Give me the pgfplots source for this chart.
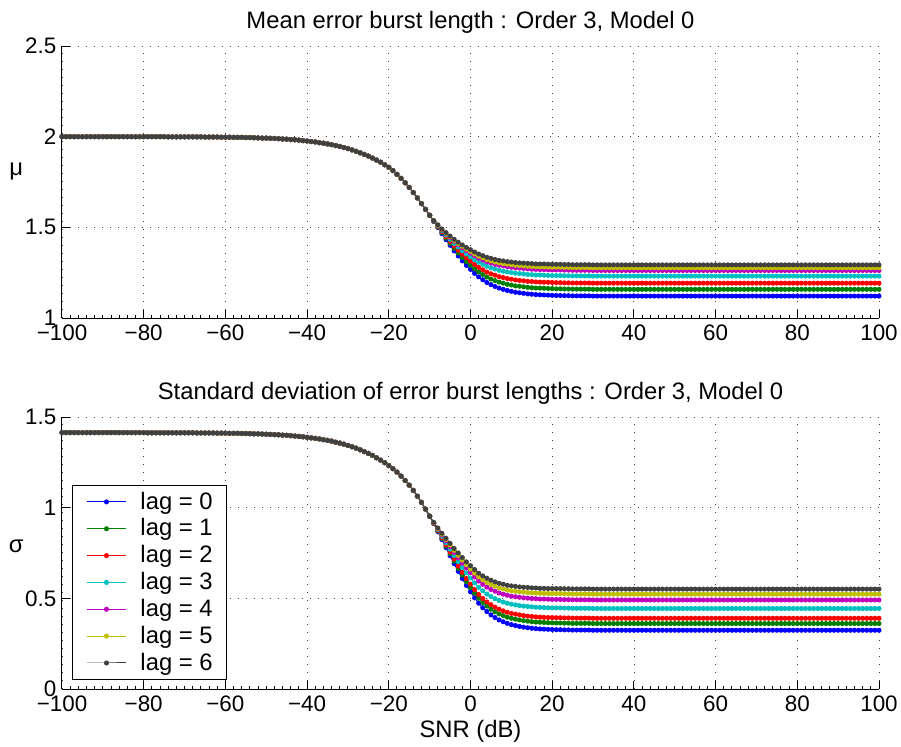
\documentclass[border=0pt]{standalone}
\usepackage{fontspec}
\setmainfont{Liberation Sans}
\usepackage{pgfplots}
\usepackage{pgfplotstable}
\pgfplotsset{compat=1.18}

\definecolor{cB}{rgb}{0,0,1}
\definecolor{cG}{rgb}{0,0.5,0}
\definecolor{cR}{rgb}{1,0,0}
\definecolor{cC}{rgb}{0,0.75,0.75}
\definecolor{cM}{rgb}{0.75,0,0.75}
\definecolor{cY}{rgb}{0.75,0.75,0}
\definecolor{cK}{rgb}{0.25,0.25,0.25}

% low SNR part, where all lags coincide
\pgfplotstableread{
x mu sd
-100 2.000 1.414
-99 2.000 1.414
-98 2.000 1.414
-97 2.000 1.414
-96 2.000 1.414
-95 2.000 1.414
-94 2.000 1.414
-93 2.000 1.414
-92 2.000 1.414
-91 2.000 1.414
-90 2.000 1.414
-89 2.000 1.414
-88 2.000 1.414
-87 2.000 1.414
-86 2.000 1.414
-85 2.000 1.414
-84 2.000 1.414
-83 2.000 1.414
-82 2.000 1.414
-81 2.000 1.414
-80 2.000 1.414
-79 2.000 1.413
-78 2.000 1.413
-77 2.000 1.413
-76 2.000 1.413
-75 2.000 1.413
-74 1.999 1.413
-73 1.999 1.413
-72 1.999 1.413
-71 1.999 1.413
-70 1.999 1.413
-69 1.999 1.413
-68 1.999 1.413
-67 1.999 1.412
-66 1.999 1.412
-65 1.998 1.412
-64 1.998 1.412
-63 1.998 1.412
-62 1.998 1.411
-61 1.997 1.411
-60 1.997 1.411
-59 1.997 1.410
-58 1.996 1.410
-57 1.996 1.410
-56 1.996 1.409
-55 1.995 1.409
-54 1.995 1.408
-53 1.994 1.407
-52 1.993 1.407
-51 1.992 1.406
-50 1.992 1.405
-49 1.991 1.404
-48 1.990 1.403
-47 1.989 1.402
-46 1.987 1.400
-45 1.986 1.399
-44 1.984 1.397
-43 1.983 1.395
-42 1.981 1.393
-41 1.978 1.391
-40 1.976 1.388
-39 1.973 1.385
-38 1.971 1.382
-37 1.967 1.379
-36 1.964 1.375
-35 1.960 1.371
-34 1.956 1.367
-33 1.951 1.361
-32 1.946 1.356
-31 1.940 1.350
-30 1.934 1.343
-29 1.927 1.336
-28 1.919 1.328
-27 1.911 1.319
-26 1.902 1.309
-25 1.893 1.299
-24 1.882 1.288
-23 1.871 1.275
-22 1.859 1.262
-21 1.845 1.248
-20 1.831 1.232
-19 1.813 1.215
-18 1.792 1.196
-17 1.770 1.174
-16 1.746 1.150
-15 1.720 1.124
-14 1.692 1.095
-13 1.662 1.063
-12 1.631 1.029
-11 1.599 0.992
-10 1.566 0.953
}\common

% lag 0..6: mean (m*) and std (s*) from -10 dB upwards
\pgfplotstableread{
x mb mg mr mc mm my mk sb sg sr sc sm sy sk
-10 1.566 1.566 1.566 1.566 1.566 1.566 1.566 0.953 0.953 0.953 0.953 0.953 0.953 0.953
-9 1.532 1.533 1.534 1.535 1.536 1.537 1.537 0.912 0.913 0.914 0.916 0.917 0.918 0.919
-8 1.499 1.502 1.505 1.508 1.511 1.512 1.514 0.868 0.871 0.874 0.878 0.882 0.885 0.888
-7 1.465 1.471 1.476 1.482 1.486 1.489 1.491 0.824 0.830 0.834 0.842 0.849 0.854 0.859
-6 1.432 1.440 1.448 1.457 1.464 1.467 1.471 0.780 0.788 0.795 0.807 0.817 0.825 0.831
-5 1.401 1.412 1.422 1.434 1.443 1.448 1.452 0.735 0.746 0.755 0.771 0.785 0.794 0.803
-4 1.370 1.384 1.396 1.411 1.423 1.428 1.434 0.691 0.705 0.716 0.736 0.753 0.765 0.775
-3 1.342 1.358 1.374 1.391 1.405 1.411 1.418 0.649 0.665 0.678 0.702 0.723 0.737 0.750
-2 1.315 1.334 1.351 1.371 1.387 1.395 1.403 0.609 0.628 0.643 0.670 0.694 0.711 0.725
-1 1.290 1.311 1.331 1.353 1.371 1.380 1.389 0.571 0.592 0.609 0.640 0.667 0.685 0.701
0 1.268 1.291 1.313 1.338 1.357 1.367 1.377 0.536 0.559 0.578 0.612 0.642 0.662 0.680
1 1.246 1.271 1.295 1.321 1.343 1.353 1.364 0.503 0.528 0.548 0.585 0.617 0.639 0.659
2 1.227 1.254 1.279 1.307 1.330 1.341 1.353 0.473 0.500 0.521 0.561 0.595 0.619 0.639
3 1.211 1.240 1.266 1.296 1.320 1.332 1.344 0.448 0.477 0.499 0.541 0.577 0.602 0.624
4 1.196 1.226 1.253 1.285 1.310 1.322 1.335 0.427 0.457 0.480 0.524 0.562 0.588 0.611
5 1.184 1.215 1.244 1.277 1.303 1.315 1.329 0.409 0.440 0.465 0.510 0.549 0.576 0.600
6 1.174 1.206 1.236 1.270 1.296 1.309 1.323 0.394 0.426 0.451 0.498 0.539 0.567 0.591
7 1.165 1.198 1.228 1.263 1.291 1.304 1.318 0.381 0.414 0.440 0.488 0.530 0.558 0.583
8 1.158 1.192 1.223 1.258 1.287 1.300 1.315 0.371 0.405 0.431 0.480 0.523 0.552 0.578
9 1.152 1.186 1.218 1.254 1.283 1.297 1.311 0.362 0.396 0.423 0.473 0.517 0.547 0.572
10 1.147 1.182 1.214 1.251 1.280 1.294 1.309 0.355 0.390 0.417 0.468 0.512 0.542 0.569
11 1.142 1.177 1.210 1.247 1.276 1.291 1.306 0.350 0.385 0.413 0.464 0.509 0.539 0.566
12 1.139 1.175 1.207 1.245 1.275 1.289 1.304 0.345 0.381 0.409 0.460 0.506 0.536 0.563
13 1.136 1.172 1.205 1.243 1.273 1.287 1.303 0.341 0.377 0.405 0.457 0.503 0.534 0.561
14 1.133 1.169 1.202 1.240 1.271 1.285 1.301 0.338 0.374 0.402 0.455 0.501 0.532 0.560
15 1.131 1.167 1.201 1.239 1.269 1.284 1.300 0.335 0.371 0.400 0.453 0.499 0.530 0.558
16 1.129 1.165 1.199 1.237 1.268 1.283 1.298 0.333 0.369 0.398 0.451 0.498 0.529 0.557
17 1.128 1.165 1.198 1.237 1.267 1.282 1.298 0.331 0.368 0.396 0.450 0.496 0.528 0.555
18 1.127 1.164 1.197 1.236 1.267 1.282 1.298 0.330 0.367 0.395 0.449 0.496 0.527 0.555
19 1.126 1.163 1.197 1.235 1.266 1.281 1.297 0.329 0.366 0.394 0.448 0.495 0.527 0.554
20 1.125 1.162 1.196 1.234 1.265 1.280 1.296 0.328 0.365 0.394 0.447 0.494 0.526 0.554
21 1.124 1.161 1.195 1.234 1.265 1.280 1.296 0.327 0.364 0.393 0.447 0.494 0.526 0.554
22 1.124 1.161 1.195 1.234 1.265 1.280 1.296 0.327 0.364 0.393 0.447 0.494 0.526 0.554
23 1.123 1.160 1.194 1.233 1.264 1.279 1.295 0.326 0.363 0.392 0.446 0.493 0.525 0.553
24 1.123 1.160 1.194 1.233 1.264 1.279 1.295 0.326 0.363 0.392 0.446 0.493 0.525 0.553
25 1.122 1.159 1.193 1.232 1.263 1.278 1.294 0.325 0.362 0.391 0.445 0.492 0.524 0.552
26 1.122 1.159 1.193 1.232 1.263 1.278 1.294 0.325 0.362 0.391 0.445 0.492 0.524 0.552
27 1.122 1.159 1.193 1.232 1.263 1.278 1.294 0.325 0.362 0.391 0.445 0.492 0.524 0.552
28 1.122 1.159 1.193 1.232 1.263 1.278 1.294 0.325 0.362 0.391 0.445 0.492 0.524 0.552
29 1.122 1.159 1.193 1.232 1.263 1.278 1.294 0.325 0.362 0.391 0.445 0.492 0.524 0.552
30 1.121 1.158 1.192 1.231 1.262 1.277 1.293 0.324 0.361 0.390 0.444 0.491 0.523 0.551
31 1.121 1.158 1.192 1.231 1.262 1.277 1.293 0.324 0.361 0.390 0.444 0.491 0.523 0.551
32 1.121 1.158 1.192 1.231 1.262 1.277 1.293 0.324 0.361 0.390 0.444 0.491 0.523 0.551
33 1.121 1.158 1.192 1.231 1.262 1.277 1.293 0.324 0.361 0.390 0.444 0.491 0.523 0.551
34 1.121 1.158 1.192 1.231 1.262 1.277 1.293 0.324 0.361 0.390 0.444 0.491 0.523 0.551
35 1.121 1.158 1.192 1.231 1.262 1.277 1.293 0.324 0.361 0.390 0.444 0.491 0.523 0.551
36 1.121 1.158 1.192 1.231 1.262 1.277 1.293 0.324 0.361 0.390 0.444 0.491 0.523 0.551
37 1.121 1.158 1.192 1.231 1.262 1.277 1.293 0.324 0.361 0.390 0.444 0.491 0.523 0.551
38 1.121 1.158 1.192 1.231 1.262 1.277 1.293 0.324 0.361 0.390 0.444 0.491 0.523 0.551
39 1.121 1.158 1.192 1.231 1.262 1.277 1.293 0.324 0.361 0.390 0.444 0.491 0.523 0.551
40 1.121 1.158 1.192 1.231 1.262 1.277 1.293 0.324 0.361 0.390 0.444 0.491 0.523 0.551
41 1.121 1.158 1.192 1.231 1.262 1.277 1.293 0.324 0.361 0.390 0.444 0.491 0.523 0.551
42 1.121 1.158 1.192 1.231 1.262 1.277 1.293 0.324 0.361 0.390 0.444 0.491 0.523 0.551
43 1.121 1.158 1.192 1.231 1.262 1.277 1.293 0.324 0.361 0.390 0.444 0.491 0.523 0.551
44 1.121 1.158 1.192 1.231 1.262 1.277 1.293 0.324 0.361 0.390 0.444 0.491 0.523 0.551
45 1.121 1.158 1.192 1.231 1.262 1.277 1.293 0.324 0.361 0.390 0.444 0.491 0.523 0.551
46 1.121 1.158 1.192 1.231 1.262 1.277 1.293 0.324 0.361 0.390 0.444 0.491 0.523 0.551
47 1.121 1.158 1.192 1.231 1.262 1.277 1.293 0.324 0.361 0.390 0.444 0.491 0.523 0.551
48 1.121 1.158 1.192 1.231 1.262 1.277 1.293 0.324 0.361 0.390 0.444 0.491 0.523 0.551
49 1.121 1.158 1.192 1.231 1.262 1.277 1.293 0.324 0.361 0.390 0.444 0.491 0.523 0.551
50 1.121 1.158 1.192 1.231 1.262 1.277 1.293 0.324 0.361 0.390 0.444 0.491 0.523 0.551
51 1.121 1.158 1.192 1.231 1.262 1.277 1.293 0.324 0.361 0.390 0.444 0.491 0.523 0.551
52 1.121 1.158 1.192 1.231 1.262 1.277 1.293 0.324 0.361 0.390 0.444 0.491 0.523 0.551
53 1.121 1.158 1.192 1.231 1.262 1.277 1.293 0.324 0.361 0.390 0.444 0.491 0.523 0.551
54 1.121 1.158 1.192 1.231 1.262 1.277 1.293 0.324 0.361 0.390 0.444 0.491 0.523 0.551
55 1.121 1.158 1.192 1.231 1.262 1.277 1.293 0.324 0.361 0.390 0.444 0.491 0.523 0.551
56 1.121 1.158 1.192 1.231 1.262 1.277 1.293 0.324 0.361 0.390 0.444 0.491 0.523 0.551
57 1.121 1.158 1.192 1.231 1.262 1.277 1.293 0.324 0.361 0.390 0.444 0.491 0.523 0.551
58 1.121 1.158 1.192 1.231 1.262 1.277 1.293 0.324 0.361 0.390 0.444 0.491 0.523 0.551
59 1.121 1.158 1.192 1.231 1.262 1.277 1.293 0.324 0.361 0.390 0.444 0.491 0.523 0.551
60 1.121 1.158 1.192 1.231 1.262 1.277 1.293 0.324 0.361 0.390 0.444 0.491 0.523 0.551
61 1.121 1.158 1.192 1.231 1.262 1.277 1.293 0.324 0.361 0.390 0.444 0.491 0.523 0.551
62 1.121 1.158 1.192 1.231 1.262 1.277 1.293 0.324 0.361 0.390 0.444 0.491 0.523 0.551
63 1.121 1.158 1.192 1.231 1.262 1.277 1.293 0.324 0.361 0.390 0.444 0.491 0.523 0.551
64 1.121 1.158 1.192 1.231 1.262 1.277 1.293 0.324 0.361 0.390 0.444 0.491 0.523 0.551
65 1.121 1.158 1.192 1.231 1.262 1.277 1.293 0.324 0.361 0.390 0.444 0.491 0.523 0.551
66 1.121 1.158 1.192 1.231 1.262 1.277 1.293 0.324 0.361 0.390 0.444 0.491 0.523 0.551
67 1.121 1.158 1.192 1.231 1.262 1.277 1.293 0.324 0.361 0.390 0.444 0.491 0.523 0.551
68 1.121 1.158 1.192 1.231 1.262 1.277 1.293 0.324 0.361 0.390 0.444 0.491 0.523 0.551
69 1.121 1.158 1.192 1.231 1.262 1.277 1.293 0.324 0.361 0.390 0.444 0.491 0.523 0.551
70 1.121 1.158 1.192 1.231 1.262 1.277 1.293 0.324 0.361 0.390 0.444 0.491 0.523 0.551
71 1.121 1.158 1.192 1.231 1.262 1.277 1.293 0.324 0.361 0.390 0.444 0.491 0.523 0.551
72 1.121 1.158 1.192 1.231 1.262 1.277 1.293 0.324 0.361 0.390 0.444 0.491 0.523 0.551
73 1.121 1.158 1.192 1.231 1.262 1.277 1.293 0.324 0.361 0.390 0.444 0.491 0.523 0.551
74 1.121 1.158 1.192 1.231 1.262 1.277 1.293 0.324 0.361 0.390 0.444 0.491 0.523 0.551
75 1.121 1.158 1.192 1.231 1.262 1.277 1.293 0.324 0.361 0.390 0.444 0.491 0.523 0.551
76 1.121 1.158 1.192 1.231 1.262 1.277 1.293 0.324 0.361 0.390 0.444 0.491 0.523 0.551
77 1.121 1.158 1.192 1.231 1.262 1.277 1.293 0.324 0.361 0.390 0.444 0.491 0.523 0.551
78 1.121 1.158 1.192 1.231 1.262 1.277 1.293 0.324 0.361 0.390 0.444 0.491 0.523 0.551
79 1.121 1.158 1.192 1.231 1.262 1.277 1.293 0.324 0.361 0.390 0.444 0.491 0.523 0.551
80 1.121 1.158 1.192 1.231 1.262 1.277 1.293 0.324 0.361 0.390 0.444 0.491 0.523 0.551
81 1.121 1.158 1.192 1.231 1.262 1.277 1.293 0.324 0.361 0.390 0.444 0.491 0.523 0.551
82 1.121 1.158 1.192 1.231 1.262 1.277 1.293 0.324 0.361 0.390 0.444 0.491 0.523 0.551
83 1.121 1.158 1.192 1.231 1.262 1.277 1.293 0.324 0.361 0.390 0.444 0.491 0.523 0.551
84 1.121 1.158 1.192 1.231 1.262 1.277 1.293 0.324 0.361 0.390 0.444 0.491 0.523 0.551
85 1.121 1.158 1.192 1.231 1.262 1.277 1.293 0.324 0.361 0.390 0.444 0.491 0.523 0.551
86 1.121 1.158 1.192 1.231 1.262 1.277 1.293 0.324 0.361 0.390 0.444 0.491 0.523 0.551
87 1.121 1.158 1.192 1.231 1.262 1.277 1.293 0.324 0.361 0.390 0.444 0.491 0.523 0.551
88 1.121 1.158 1.192 1.231 1.262 1.277 1.293 0.324 0.361 0.390 0.444 0.491 0.523 0.551
89 1.121 1.158 1.192 1.231 1.262 1.277 1.293 0.324 0.361 0.390 0.444 0.491 0.523 0.551
90 1.121 1.158 1.192 1.231 1.262 1.277 1.293 0.324 0.361 0.390 0.444 0.491 0.523 0.551
91 1.121 1.158 1.192 1.231 1.262 1.277 1.293 0.324 0.361 0.390 0.444 0.491 0.523 0.551
92 1.121 1.158 1.192 1.231 1.262 1.277 1.293 0.324 0.361 0.390 0.444 0.491 0.523 0.551
93 1.121 1.158 1.192 1.231 1.262 1.277 1.293 0.324 0.361 0.390 0.444 0.491 0.523 0.551
94 1.121 1.158 1.192 1.231 1.262 1.277 1.293 0.324 0.361 0.390 0.444 0.491 0.523 0.551
95 1.121 1.158 1.192 1.231 1.262 1.277 1.293 0.324 0.361 0.390 0.444 0.491 0.523 0.551
96 1.121 1.158 1.192 1.231 1.262 1.277 1.293 0.324 0.361 0.390 0.444 0.491 0.523 0.551
97 1.121 1.158 1.192 1.231 1.262 1.277 1.293 0.324 0.361 0.390 0.444 0.491 0.523 0.551
98 1.121 1.158 1.192 1.231 1.262 1.277 1.293 0.324 0.361 0.390 0.444 0.491 0.523 0.551
99 1.121 1.158 1.192 1.231 1.262 1.277 1.293 0.324 0.361 0.390 0.444 0.491 0.523 0.551
100 1.121 1.158 1.192 1.231 1.262 1.277 1.293 0.324 0.361 0.390 0.444 0.491 0.523 0.551
}\tail

\pgfplotsset{
  burst/.style={
    scale only axis, width=408.5pt, height=136pt,
    xmin=-100, xmax=100,
    xtick={-100,-80,...,100},
    xticklabels={−100,−80,−60,−40,−20,0,20,40,60,80,100},
    minor x tick num=9,
    axis x line*=bottom, axis y line*=left,
    axis line style={-, line width=0.5pt},
    x axis line style={-}, y axis line style={-},
    tick align=inside,
    major tick length=4pt, minor tick length=1.5pt,
    tick style={black, line width=0.5pt},
    grid=major,
    major grid style={black!75, line width=0.4pt, dash pattern=on 0.5pt off 3.5pt},
    xticklabel style={anchor=base, yshift=-11pt, inner sep=0pt, font=\fontsize{11.2}{13}\selectfont},
    yticklabel style={anchor=east, inner sep=0pt, xshift=-2.65pt, font=\fontsize{11.2}{13}\selectfont},
    every axis title/.style={at={(axis description cs:0.5,1)}, anchor=base, yshift=8.85pt, font=\fontsize{11.9}{14}\selectfont},
    every axis x label/.style={at={(axis description cs:0.5,0)}, anchor=base, yshift=-24pt, font=\fontsize{11.9}{14}\selectfont},
    every axis plot/.append style={line width=0.5pt, mark=*, mark size=1pt},
  },
}

\begin{document}
\begin{tikzpicture}
\useasboundingbox (-31pt,-214pt) rectangle (419.5pt,159pt);

\begin{axis}[burst,
  at={(0pt,0pt)}, anchor=south west,
  ymin=1, ymax=2.5,
  ytick={1,1.5,2,2.5}, yticklabels={1,1.5,2,2.5},
  title={Mean error burst length : Order 3, Model 0},
  ylabel={μ},
  every axis y label/.style={at={(axis description cs:-0.056,0.54)}, anchor=center, font=\fontsize{11.9}{14}\selectfont},
]
\addplot[cB, forget plot] table[x=x, y=mu]{\common};
\addplot[cB] table[x=x, y=mb]{\tail};
\addplot[cG, forget plot] table[x=x, y=mu]{\common};
\addplot[cG] table[x=x, y=mg]{\tail};
\addplot[cR, forget plot] table[x=x, y=mu]{\common};
\addplot[cR] table[x=x, y=mr]{\tail};
\addplot[cC, forget plot] table[x=x, y=mu]{\common};
\addplot[cC] table[x=x, y=mc]{\tail};
\addplot[cM, forget plot] table[x=x, y=mu]{\common};
\addplot[cM] table[x=x, y=mm]{\tail};
\addplot[cY, forget plot] table[x=x, y=mu]{\common};
\addplot[cY] table[x=x, y=my]{\tail};
\addplot[cK, forget plot] table[x=x, y=mu]{\common};
\addplot[cK] table[x=x, y=mk]{\tail};
\end{axis}

\begin{axis}[burst,
  at={(0pt,-185.5pt)}, anchor=south west,
  ymin=0, ymax=1.5,
  ytick={0,0.5,1,1.5}, yticklabels={0,0.5,1,1.5},
  title={Standard deviation of error burst lengths : Order 3, Model 0},
  xlabel={SNR (dB)},
  ylabel={σ},
  every axis y label/.style={at={(axis description cs:-0.056,0.525)}, anchor=center, font=\fontsize{11.9}{14}\selectfont},
  legend style={at={(axis description cs:0.01224,0.0331)}, anchor=south west,
    draw=black, line width=0.5pt, fill=white,
    inner xsep=7pt, inner ysep=3.2pt, row sep=3.3pt,
    font=\fontsize{11.9}{14}\selectfont,
    nodes={inner sep=0pt},
    /tikz/every odd column/.append style={column sep=7pt}},
  legend cell align=left,
  legend image code/.code={\draw[mark repeat=2, mark phase=2, #1] plot coordinates {(0pt,0pt) (9.75pt,0pt) (19.5pt,0pt)};},
]
\addplot[cB, forget plot] table[x=x, y=sd]{\common};
\addplot[cB] table[x=x, y=sb]{\tail};
\addlegendentry{lag = 0}
\addplot[cG, forget plot] table[x=x, y=sd]{\common};
\addplot[cG] table[x=x, y=sg]{\tail};
\addlegendentry{lag = 1}
\addplot[cR, forget plot] table[x=x, y=sd]{\common};
\addplot[cR] table[x=x, y=sr]{\tail};
\addlegendentry{lag = 2}
\addplot[cC, forget plot] table[x=x, y=sd]{\common};
\addplot[cC] table[x=x, y=sc]{\tail};
\addlegendentry{lag = 3}
\addplot[cM, forget plot] table[x=x, y=sd]{\common};
\addplot[cM] table[x=x, y=sm]{\tail};
\addlegendentry{lag = 4}
\addplot[cY, forget plot] table[x=x, y=sd]{\common};
\addplot[cY] table[x=x, y=sy]{\tail};
\addlegendentry{lag = 5}
\addplot[cK, forget plot] table[x=x, y=sd]{\common};
\addplot[cK] table[x=x, y=sk]{\tail};
\addlegendentry{lag = 6}
\end{axis}
\end{tikzpicture}
\end{document}
